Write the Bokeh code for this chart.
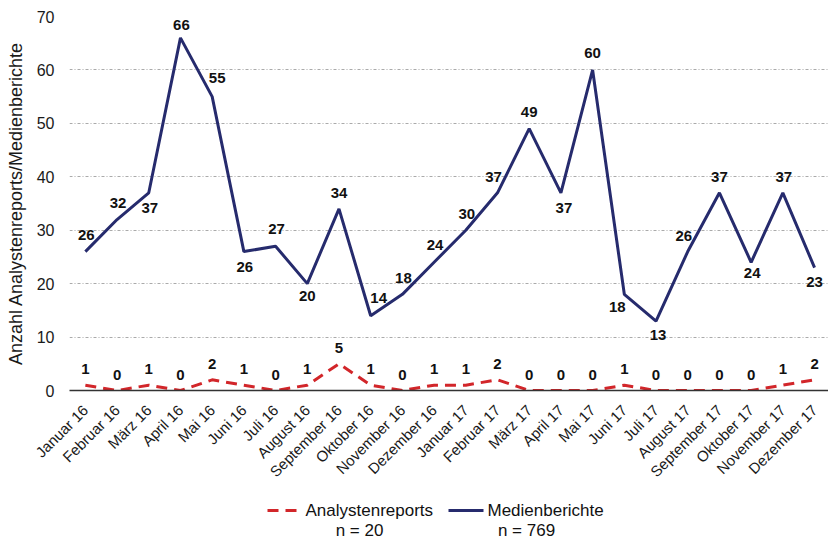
import math
from bokeh.plotting import figure
from bokeh.models import Range1d, FixedTicker, ColumnDataSource
from bokeh.layouts import column
from bokeh.embed import file_html
from bokeh.resources import INLINE
from bokeh.core.properties import value

# ---- data ----
months = ["Januar 16", "Februar 16", "März 16", "April 16", "Mai 16", "Juni 16",
          "Juli 16", "August 16", "September 16", "Oktober 16", "November 16", "Dezember 16",
          "Januar 17", "Februar 17", "März 17", "April 17", "Mai 17", "Juni 17",
          "Juli 17", "August 17", "September 17", "Oktober 17", "November 17", "Dezember 17"]
medien = [26, 32, 37, 66, 55, 26, 27, 20, 34, 14, 18, 24,
          30, 37, 49, 37, 60, 18, 13, 26, 37, 24, 37, 23]
analysten = [1, 0, 1, 0, 2, 1, 0, 1, 5, 1, 0, 1,
             1, 2, 0, 0, 0, 1, 0, 0, 0, 0, 1, 2]
series_names = ["Analystenreports", "Medienberichte"]
series_counts = ["n = 20", "n = 769"]
y_ticks = [0, 10, 20, 30, 40, 50, 60, 70]
y_title = "Anzahl Analystenreports/Medienberichte"

# ---- style ----
FONT = "Liberation Sans"
NAVY = "#262b6d"
RED = "#d2262a"
# label offsets in screen pixels (dx, dy; dy positive = downwards)
medien_dx = [1, 1, 1, 1, 5, 1, 1, 0, 0, 8, 1, 1, 1, -4, 0, 3, 0, -7, 2, -4, 0, 1, 1, 0]
medien_dy = [-17, -17, 15, -13, -19, 15, -17, 12, -16, -18, -16, -17,
             -16, -16, -17, 15, -17, 13, 14, -16, -16, 11, -16, 14]

xs = list(range(len(months)))

W = 828
p = figure(width=W, height=490, x_range=Range1d(-0.5, 23.44), y_range=Range1d(0, 70),
           output_backend="svg", toolbar_location=None,
           min_border_left=69, min_border_right=0, min_border_top=16, min_border_bottom=100)
p.outline_line_color = None
p.background_fill_color = "white"
p.border_fill_color = "white"

# grid
p.xgrid.grid_line_color = None
p.ygrid.grid_line_color = "#aaaaaa"
p.ygrid.grid_line_dash = "3 2 1 2"
p.ygrid.grid_line_width = 1
p.ygrid.ticker = FixedTicker(ticks=y_ticks[1:])

# y axis
p.yaxis.ticker = FixedTicker(ticks=y_ticks)
p.yaxis.axis_line_color = None
p.yaxis.major_tick_line_color = None
p.yaxis.minor_tick_line_color = None
p.yaxis.major_label_text_font = FONT
p.yaxis.major_label_text_font_size = "16px"
p.yaxis.major_label_text_color = "#1a1a1a"
p.yaxis.major_label_standoff = 9
p.yaxis.axis_label = y_title
p.yaxis.axis_label_text_font = FONT
p.yaxis.axis_label_text_font_size = "18px"
p.yaxis.axis_label_text_font_style = "normal"
p.yaxis.axis_label_text_color = "#1a1a1a"
p.yaxis.axis_label_standoff = 8

# x axis
p.xaxis.ticker = FixedTicker(ticks=xs)
p.xaxis.major_label_overrides = {i: m for i, m in enumerate(months)}
p.xaxis.major_label_orientation = math.pi / 4
p.xaxis.major_label_text_font = FONT
p.xaxis.major_label_text_font_size = "15px"
p.xaxis.major_label_text_color = "#1a1a1a"
p.xaxis.major_label_standoff = 11
p.xaxis.axis_line_color = "#333333"
p.xaxis.axis_line_width = 1.5
p.xaxis.major_tick_line_color = None
p.xaxis.minor_tick_line_color = None

src = ColumnDataSource(dict(x=xs, m=medien, a=analysten,
                            mt=[str(v) for v in medien], at=[str(v) for v in analysten],
                            mdx=medien_dx, mdy=medien_dy))

p.line("x", "a", source=src, line_color=RED, line_width=3, line_dash="11 7")
p.line("x", "m", source=src, line_color=NAVY, line_width=3)

p.text("x", "m", text="mt", source=src, x_offset="mdx", y_offset="mdy",
       text_font=value(FONT), text_font_size="15px", text_font_style="bold",
       text_align="center", text_baseline="middle", text_color="#111111")
p.text("x", "a", text="at", source=src, x_offset=0, y_offset=-16,
       text_font=value(FONT), text_font_size="15px", text_font_style="bold",
       text_align="center", text_baseline="middle", text_color="#111111")

# ---- legend (separate strip below; its frame is aligned with the main frame) ----
lg = figure(width=W, height=50, x_range=Range1d(69, W), y_range=Range1d(0, 50),
            output_backend="svg", toolbar_location=None,
            min_border_left=69, min_border_right=0, min_border_top=0, min_border_bottom=0)
lg.axis.visible = False
lg.grid.visible = False
lg.outline_line_color = None
lg.border_fill_color = "white"
lg.background_fill_color = "white"

lg.line([267, 298], [30, 30], line_color=RED, line_width=3, line_dash="11 7")
lg.line([448, 483], [30, 30], line_color=NAVY, line_width=3)
lg.text([305, 487], [30, 30], text=series_names,
        text_font=value(FONT), text_font_size="17px", text_align="left",
        text_baseline="middle", text_color="#111111")
lg.text([359, 526], [10, 10], text=series_counts,
        text_font=value(FONT), text_font_size="17px", text_align="center",
        text_baseline="middle", text_color="#111111")

layout = column(p, lg, spacing=0)
open("out.html", "w").write(file_html(layout, INLINE))
